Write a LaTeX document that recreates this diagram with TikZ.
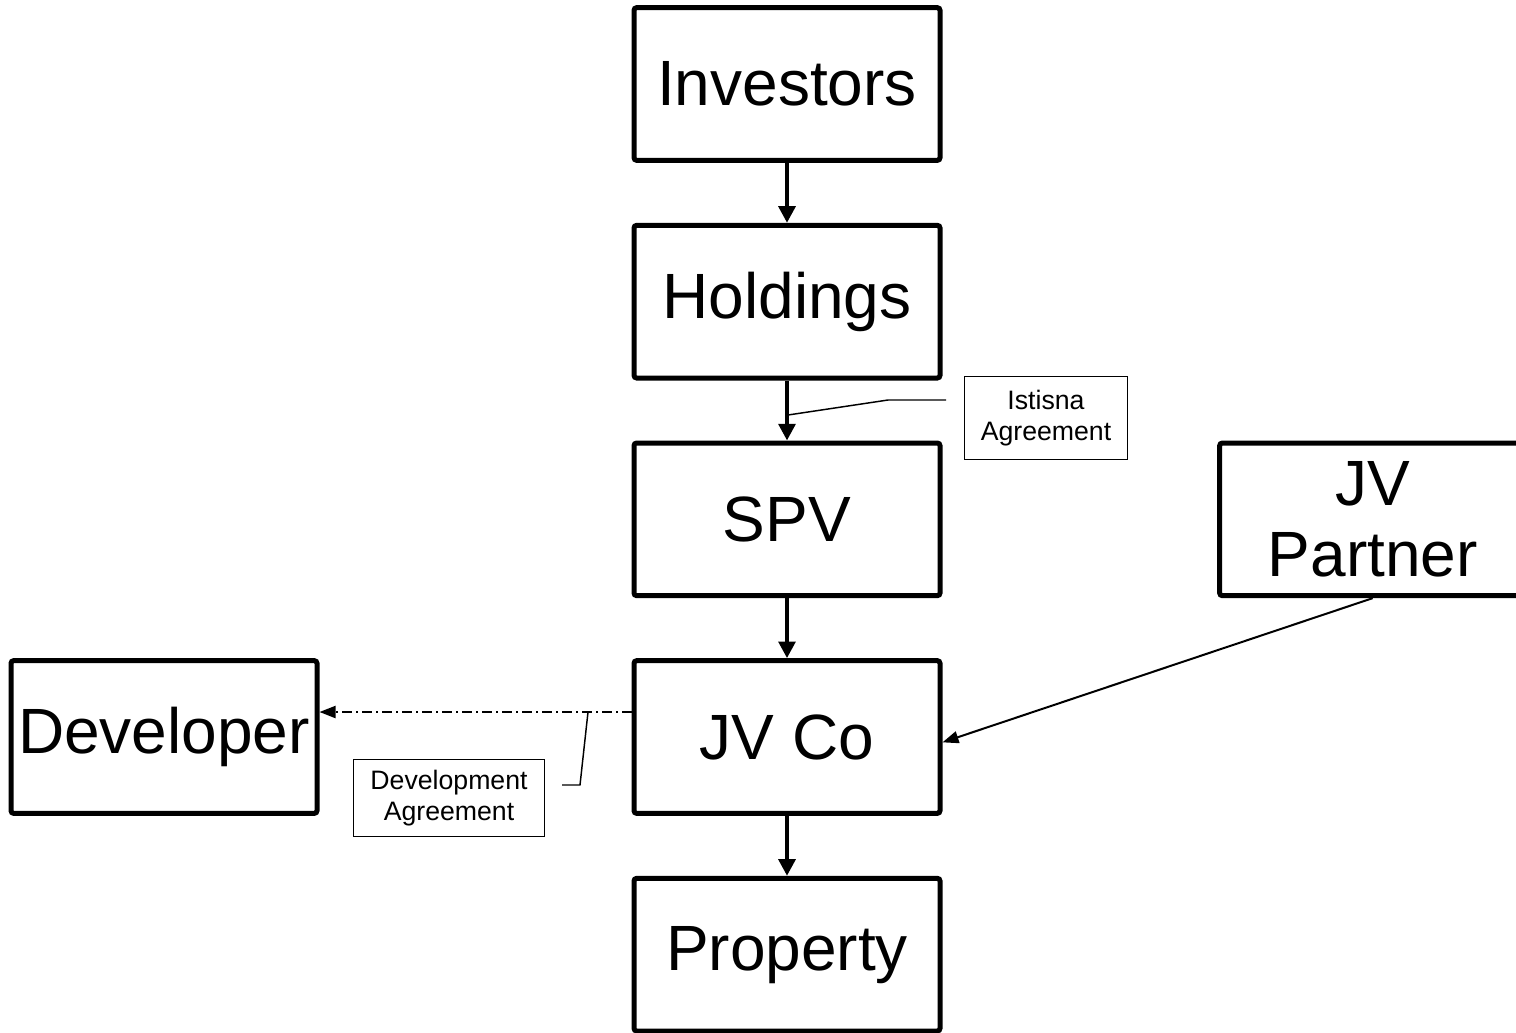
\documentclass[tikz,border=0pt]{standalone}
\usepackage{fontspec}
\setmainfont{Liberation Sans}
\usetikzlibrary{arrows.meta, positioning}
\tikzstyle{arrow}  = [line width=3pt,-{Triangle[length=12.5pt,width=12.5pt]}]

\begin{document}
\begin{tikzpicture}[
        x=0.75pt, y=-0.75pt, % pixel grid, y downwards
        node distance = 45pt and 206pt,
        base/.style  ={draw=black, line width=3.75pt, rounded corners=2pt,
                       font=\fontsize{48}{53}\selectfont, align=center,
                       minimum width=229.5pt, minimum height=114.5pt, inner sep=0pt},
        party/.style ={base},
        note/.style  ={draw=black, line width=0.75pt, align=center,
                       font=\fontsize{20}{23.5}\selectfont, inner sep=0pt},
        link/.style  ={line width=1.5pt, -{Triangle[length=12pt,width=9pt]}},
        leader/.style={line width=1.1pt}
    ]

    \useasboundingbox (0,0) rectangle (1516,1032);

    % --- nodes ---
    \node[party] (inv) at (787,84) {Investors};
    \node[party, below=of inv]  (hold) {Holdings};
    \node[party, below=of hold] (spv)  {SPV};
    \node[party, below=of spv]  (jvco) {JV Co};
    \node[party, below=of jvco] (prop) {Property};

    \node[party, right=of spv] (jvp) {JV\\Partner};
    \node[party, left=234pt of jvco] (dev) {Developer};

    \node[note, minimum width=122pt, minimum height=62.5pt] (istisna) at (1046,418) {Istisna\\Agreement};
    \node[note, minimum width=143.25pt, minimum height=57.75pt] (devagr) at (449,798) {Development\\Agreement};

    % --- arrows ---
    \draw[arrow] (inv)  -- (hold);
    \draw[arrow] (hold) -- (spv);
    \draw[arrow] (spv)  -- (jvco);
    \draw[arrow] (jvco) -- (prop);

    \coordinate (dvline) at ([yshift=18.75pt]jvco.west);
    \draw[link, dash pattern=on 7.5pt off 3pt on 1.5pt off 3pt] (dvline) -- (dvline -| dev.east);
    \draw[link] (jvp.south) -- ([yshift=-4pt]jvco.east);

    % --- leaders ---
    \coordinate (istip)  at (788,415);
    \coordinate (isknee) at (888,400);
    \coordinate (dvtip)  at (588,712);
    \coordinate (dvknee) at (580,785);
    \draw[leader] (istisna.west |- isknee) ++(-13.5pt,0) -- (isknee) -- (istip);
    \draw[leader] (devagr.east |- dvknee) ++(12.75pt,0) -- (dvknee) -- (dvtip);

\end{tikzpicture}
\end{document}
